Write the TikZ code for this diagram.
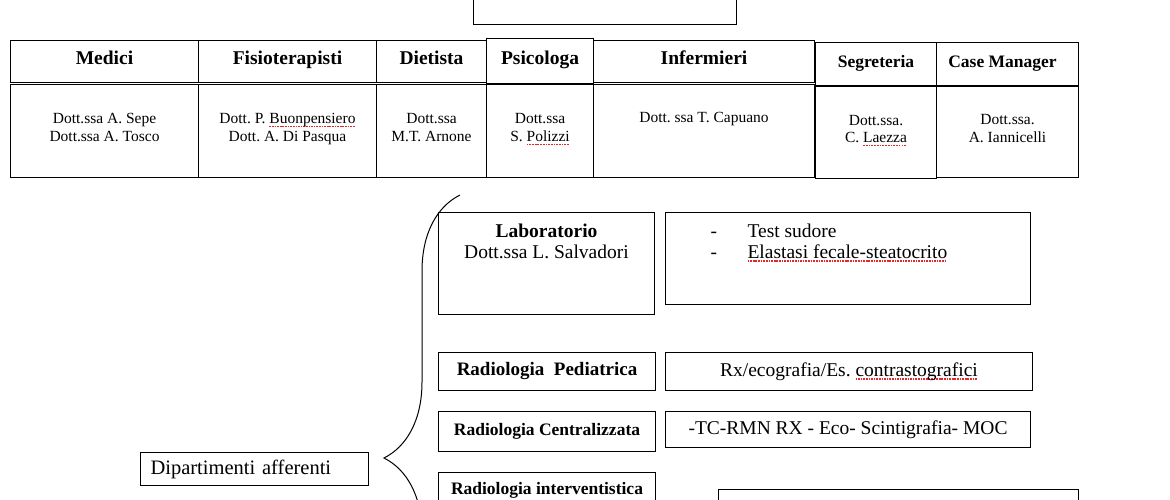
\documentclass[tikz,border=0pt]{standalone}
\usepackage{fontspec}
\setmainfont{Liberation Serif}
\usetikzlibrary{positioning,decorations.pathreplacing}
\frenchspacing

\definecolor{spellred}{RGB}{228,40,40}
% red dotted underline as left by the spell checker
\newsavebox\spellbox
\newcommand\spellerr[1]{\leavevmode\sbox\spellbox{#1}%
  \rlap{\raisebox{-3.5pt}[0pt][0pt]{\color{spellred}%
    \hbox to\wd\spellbox{\xleaders\hbox{\rule{1.7pt}{1.3pt}\kern0.9pt}\hfil}}}%
  \usebox\spellbox}

\tikzset{
  box/.style={draw,line width=1pt,inner sep=0pt,anchor=north west},
  head/.style={font=\fontsize{19.5}{21}\selectfont\bfseries,text height=13pt,text depth=6pt},
  smallhead/.style={font=\fontsize{17.5}{19}\selectfont\bfseries,text height=12pt,text depth=5.5pt},
  body/.style={font=\fontsize{15.5}{17.5}\selectfont,align=center},
  bodycell/.style={body,text depth=7pt},
  big/.style={font=\fontsize{19.5}{21}\selectfont,align=center},
  deptname/.style={font=\fontsize{17.5}{19}\selectfont\bfseries},
}

\begin{document}
\begin{tikzpicture}[x=1pt,y=-1pt]
  \useasboundingbox (0,0) rectangle (1170,500);
  \clip (0,0) rectangle (1170,500);

  % title box, cut at the top
  \node[box,minimum width=263,minimum height=29] (title) at (473,-5) {};

  % staff table: headers
  \node[box,head,minimum width=188,minimum height=42] (medici) at (10,40) {Medici};
  \node[box,head,minimum width=178,minimum height=42] (fisio) at (198,40) {Fisioterapisti};
  \node[box,head,minimum width=110,minimum height=42] (diet) at (376,40) {Dietista};
  \node[box,head,minimum width=107,minimum height=45] (psico) at (486,38) {Psicologa};
  \node[box,head,minimum width=221,minimum height=42] (inferm) at (593,40) {Infermieri};
  \node[box,smallhead,minimum width=121,minimum height=43] (segr) at (815,42) {Segreteria};
  \node[box,smallhead,minimum width=142,minimum height=43] (casem) at (936,42) {Case Manager\hspace*{10pt}};

  % staff table: names
  \node[box,bodycell,minimum width=188,minimum height=93] (mediciB) at (10,84)
    {Dott.ssa A. Sepe\\Dott.ssa A. Tosco};
  \node[box,bodycell,minimum width=178,minimum height=93] (fisioB) at (198,84)
    {Dott. P. \spellerr{Buonpensiero}\\Dott. A. Di Pasqua};
  \node[box,bodycell,minimum width=110,minimum height=93] (dietB) at (376,84)
    {Dott.ssa\\M.T. Arnone};
  \node[box,bodycell,minimum width=107,minimum height=93] (psicoB) at (486,84)
    {Dott.ssa\\S. \spellerr{Polizzi}};
  \node[box,minimum width=221,minimum height=93] (infermB) at (593,84) {};
  \node[body,anchor=north] (infermT) at (infermB.north |- 0,109) {Dott. ssa T. Capuano};
  \node[box,bodycell,minimum width=121,minimum height=92] (segrB) at (815,86)
    {Dott.ssa.\\C. \spellerr{Laezza}};
  \node[box,bodycell,minimum width=142,minimum height=91] (casemB) at (936,86)
    {Dott.ssa.\\A. Iannicelli};

  % departments
  \node[box,font=\fontsize{20.5}{22}\selectfont,text width=208,inner xsep=10,
    minimum height=33,align=left] (dip) at (140,452) {Dipartimenti afferenti};
  \coordinate (braceTop) at (460,195);
  \coordinate (braceBot) at (460,721);
  \draw[line width=1pt,decorate,decoration={brace,amplitude=76pt}] (braceBot) -- (braceTop);

  \node[box,minimum width=216,minimum height=102] (lab) at (438,212) {};
  \node[big,anchor=north] (labT) at (lab.north |- 0,220)
    {\textbf{Laboratorio}\\Dott.ssa L. Salvadori};
  \node[box,minimum width=365,minimum height=92] (labEx) at (665,212) {};
  \node[big,anchor=north west] (labExT) at (707,219)
    {\begin{tabular}{@{}p{37pt}@{}l@{}}
      - & Test sudore\\
      - & \spellerr{Elastasi fecale-steatocrito}
     \end{tabular}};

  \node[box,deptname,font=\fontsize{19}{21}\selectfont\bfseries,
    minimum width=217,minimum height=38] (radped) at (438,352) {Radiologia\ \ Pediatrica};
  \node[box,big,minimum width=367,minimum height=38] (radpedEx) at (665,352)
    {Rx/ecografia/Es. \spellerr{contrastografici}};

  \node[box,deptname,minimum width=217,minimum height=40] (radcen) at (438,411)
    {Radiologia Centralizzata};
  \node[box,big,minimum width=365,minimum height=36] (radcenEx) at (665,411)
    {-TC-RMN RX - Eco- Scintigrafia- MOC};

  \node[box,deptname,minimum width=217,minimum height=36] (radint) at (438,472)
    {Radiologia interventistica};
  \node[box,minimum width=360,minimum height=60] (radintEx) at (718,489) {};
\end{tikzpicture}
\end{document}
